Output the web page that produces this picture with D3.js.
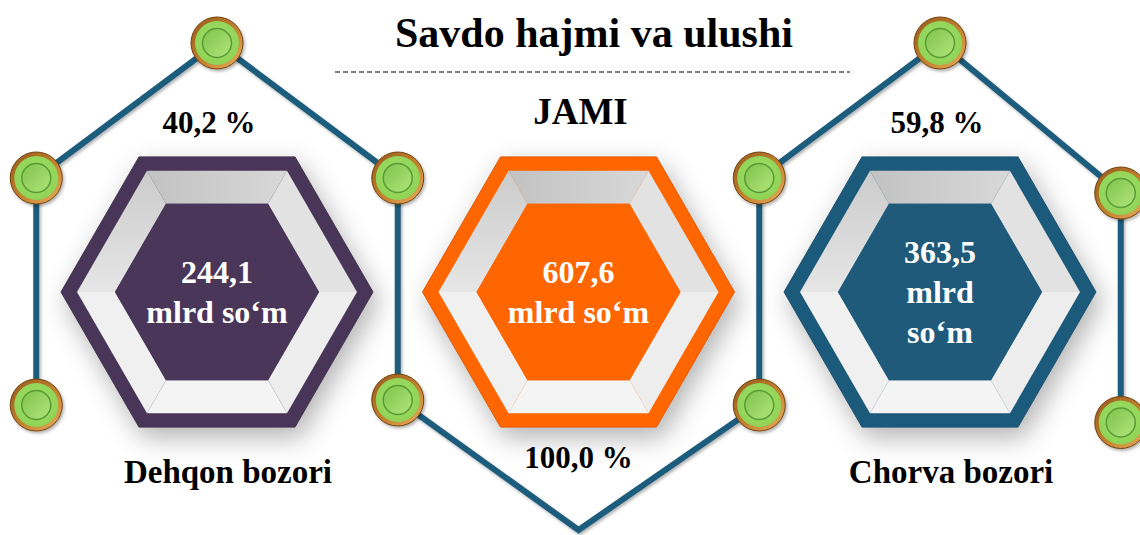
<!DOCTYPE html>
<html>
<head>
<meta charset="utf-8">
<script src="https://cdn.jsdelivr.net/npm/d3@7"></script>
<style>
  html, body { margin: 0; padding: 0; background: #fff; }
  svg { display: block; }
  text { font-family: "Liberation Serif", "Times New Roman", serif; font-weight: bold; }
</style>
</head>
<body>
<svg id="chart" width="1140" height="535"></svg>
<script>
// data
var title = "Savdo hajmi va ulushi";
var markets = ["Dehqon bozori", "JAMI", "Chorva bozori"];
var volumes = [244.1, 607.6, 363.5]; // mlrd so'm
var shares = [40.2, 100.0, 59.8]; // %
var unitLines = [["mlrd so‘m"], ["mlrd so‘m"], ["mlrd", "so‘m"]];
var colors = ["#4a3659", "#ff6600", "#1f5a7b"];

var width = 1140, height = 535;
var cy = 292;

var uz = d3.formatLocale({ decimal: ",", thousands: " ", grouping: [3], currency: ["", ""] });
var fmt = uz.format(".1f");

var svg = d3.select("#chart");
var defs = svg.append("defs");

// soft shadow under the hexagons
var sh = defs.append("filter").attr("id", "hexShadow")
  .attr("x", "-30%").attr("y", "-30%").attr("width", "160%").attr("height", "160%");
sh.append("feDropShadow").attr("dx", 5).attr("dy", 10).attr("stdDeviation", 13)
  .attr("flood-color", "#000").attr("flood-opacity", 0.3);

var sh2 = defs.append("filter").attr("id", "smallShadow")
  .attr("x", "-30%").attr("y", "-30%").attr("width", "160%").attr("height", "160%");
sh2.append("feDropShadow").attr("dx", 1.5).attr("dy", 2).attr("stdDeviation", 1.5)
  .attr("flood-color", "#000").attr("flood-opacity", 0.3);

// node gradients
var ring = defs.append("linearGradient").attr("id", "ring")
  .attr("x1", 0).attr("y1", 0).attr("x2", 1).attr("y2", 1);
ring.append("stop").attr("offset", "0%").attr("stop-color", "#94591a");
ring.append("stop").attr("offset", "55%").attr("stop-color", "#c4822f");
ring.append("stop").attr("offset", "100%").attr("stop-color", "#e8b060");

var green = defs.append("radialGradient").attr("id", "green")
  .attr("cx", "50%").attr("cy", "45%").attr("r", "60%");
green.append("stop").attr("offset", "0%").attr("stop-color", "#a2e06a");
green.append("stop").attr("offset", "100%").attr("stop-color", "#8dd254");

var button = defs.append("linearGradient").attr("id", "button")
  .attr("x1", 0).attr("y1", 0).attr("x2", 1).attr("y2", 1);
button.append("stop").attr("offset", "0%").attr("stop-color", "#7fc24b");
button.append("stop").attr("offset", "100%").attr("stop-color", "#b0e67a");

var topBevel = defs.append("linearGradient").attr("id", "topBevel")
  .attr("x1", 0).attr("y1", 0).attr("x2", 1).attr("y2", 0);
topBevel.append("stop").attr("offset", "0%").attr("stop-color", "#c2c2c2");
topBevel.append("stop").attr("offset", "100%").attr("stop-color", "#d8d8d8");

var ulBevel = defs.append("linearGradient").attr("id", "ulBevel")
  .attr("x1", 0).attr("y1", 0).attr("x2", 0).attr("y2", 1);
ulBevel.append("stop").attr("offset", "0%").attr("stop-color", "#cbcbcb");
ulBevel.append("stop").attr("offset", "100%").attr("stop-color", "#e6e6e6");

// scales
var x = d3.scalePoint().domain(markets).range([217, 940]);
var half = x.step() / 2;

// hexagon geometry (flat top)
var rOuter = 156, rFrame = 140, rInner = 102;
function hexPoints(cx, cyy, r) {
  return d3.range(6).map(function (i) {
    var a = Math.PI / 3 * i;
    return [cx + r * Math.cos(a), cyy + r * Math.sin(a)];
  });
}
// edge i goes from vertex i to i+1: lower-right, bottom, lower-left, upper-left, top, upper-right
var bevelFills = ["#ededed", "#f4f4f4", "#f0f0f0", "url(#ulBevel)", "url(#topBevel)", "#e2e2e2"];

var panels = svg.append("g").selectAll("g.panel")
  .data(markets)
  .join("g")
  .attr("class", "panel");

panels.each(function (m, i) {
  var g = d3.select(this);
  var cx = x(m);
  var outer = hexPoints(cx, cy, rOuter);
  var frame = hexPoints(cx, cy, rFrame);
  var inner = hexPoints(cx, cy, rInner);

  g.append("polygon")
    .attr("points", outer.join(" "))
    .attr("fill", colors[i])
    .attr("stroke", d3.color(colors[i]).darker(0.4))
    .attr("stroke-width", 1)
    .attr("filter", "url(#hexShadow)");

  d3.range(6).forEach(function (k) {
    var k2 = (k + 1) % 6;
    g.append("polygon")
      .attr("points", [frame[k], frame[k2], inner[k2], inner[k]].join(" "))
      .attr("fill", bevelFills[k]);
  });

  g.append("polygon")
    .attr("points", inner.join(" "))
    .attr("fill", colors[i]);

  // value + unit inside
  var lines = [fmt(volumes[i])].concat(unitLines[i]);
  var n = lines.length;
  g.selectAll("text.val")
    .data(lines)
    .join("text")
    .attr("class", "val")
    .attr("x", cx)
    .attr("y", function (d, j) { return cy + (j - (n - 1) / 2) * 40 + 11; })
    .attr("text-anchor", "middle")
    .attr("fill", "#fff")
    .attr("font-size", 32)
    .text(function (d) { return d; });
});

// connecting network (the right-hand side sits a bit lower, as in the original)
var pts = [];
markets.forEach(function (m, i) {
  var cx = x(m);
  if (i % 2 === 0) {
    var drop = i === markets.length - 1 ? 15 : 0;
    pts.push({ x: cx - half, y: cy + 113, node: true });
    pts.push({ x: cx - half, y: cy - 114, node: true });
    pts.push({ x: cx, y: cy - 249, node: true });
    pts.push({ x: cx + half, y: cy - 114 + drop, node: true });
    pts.push({ x: cx + half, y: cy + 108 + drop * 1.5, node: true });
  } else {
    pts.push({ x: cx, y: cy + 238, node: false });
  }
});
// drop duplicates shared by neighbours
var seen = {};
pts = pts.filter(function (p) {
  var key = Math.round(p.x) + "," + Math.round(p.y);
  if (seen[key]) return false;
  seen[key] = true;
  return true;
});

var line = d3.line().x(function (d) { return d.x; }).y(function (d) { return d.y; });
svg.append("path")
  .datum(pts)
  .attr("d", line)
  .attr("fill", "none")
  .attr("stroke", "#1f5b7c")
  .attr("stroke-width", 6)
  .attr("stroke-linejoin", "miter")
  .attr("filter", "url(#smallShadow)");

var nodes = svg.append("g").selectAll("g.node")
  .data(pts.filter(function (p) { return p.node; }))
  .join("g")
  .attr("class", "node")
  .attr("transform", function (d) { return "translate(" + d.x + "," + d.y + ")"; });

nodes.append("circle").attr("r", 26).attr("fill", "url(#ring)")
  .attr("stroke", "#74420f").attr("stroke-width", 1).attr("filter", "url(#smallShadow)");
nodes.append("circle").attr("r", 22).attr("fill", "url(#green)");
nodes.append("circle").attr("r", 14.5).attr("fill", "url(#button)")
  .attr("stroke", "#5a9a36").attr("stroke-width", 1.5);

// labels around the hexagons
markets.forEach(function (m, i) {
  var cx = x(m);
  var up = i % 2 === 0;
  svg.append("text")
    .attr("x", cx - (up ? 8 : 0) + (i === 2 ? 5 : 0))
    .attr("y", up ? cy - 159 : cy + 176)
    .attr("text-anchor", "middle")
    .attr("font-size", 31)
    .attr("fill", "#000")
    .text(fmt(shares[i]) + " %");
  svg.append("text")
    .attr("x", cx + (up ? 11 : 2))
    .attr("y", up ? cy + 191 : cy - 168)
    .attr("text-anchor", "middle")
    .attr("font-size", up ? 33 : 37)
    .attr("fill", "#000")
    .text(m);
});

// title
svg.append("text")
  .attr("x", 594)
  .attr("y", 47)
  .attr("text-anchor", "middle")
  .attr("font-size", 42)
  .attr("fill", "#000")
  .text(title);

svg.append("line")
  .attr("x1", 335).attr("x2", 850)
  .attr("y1", 72).attr("y2", 72)
  .attr("stroke", "#555")
  .attr("stroke-width", 1.3)
  .attr("stroke-dasharray", "5,3");
</script>
</body>
</html>
